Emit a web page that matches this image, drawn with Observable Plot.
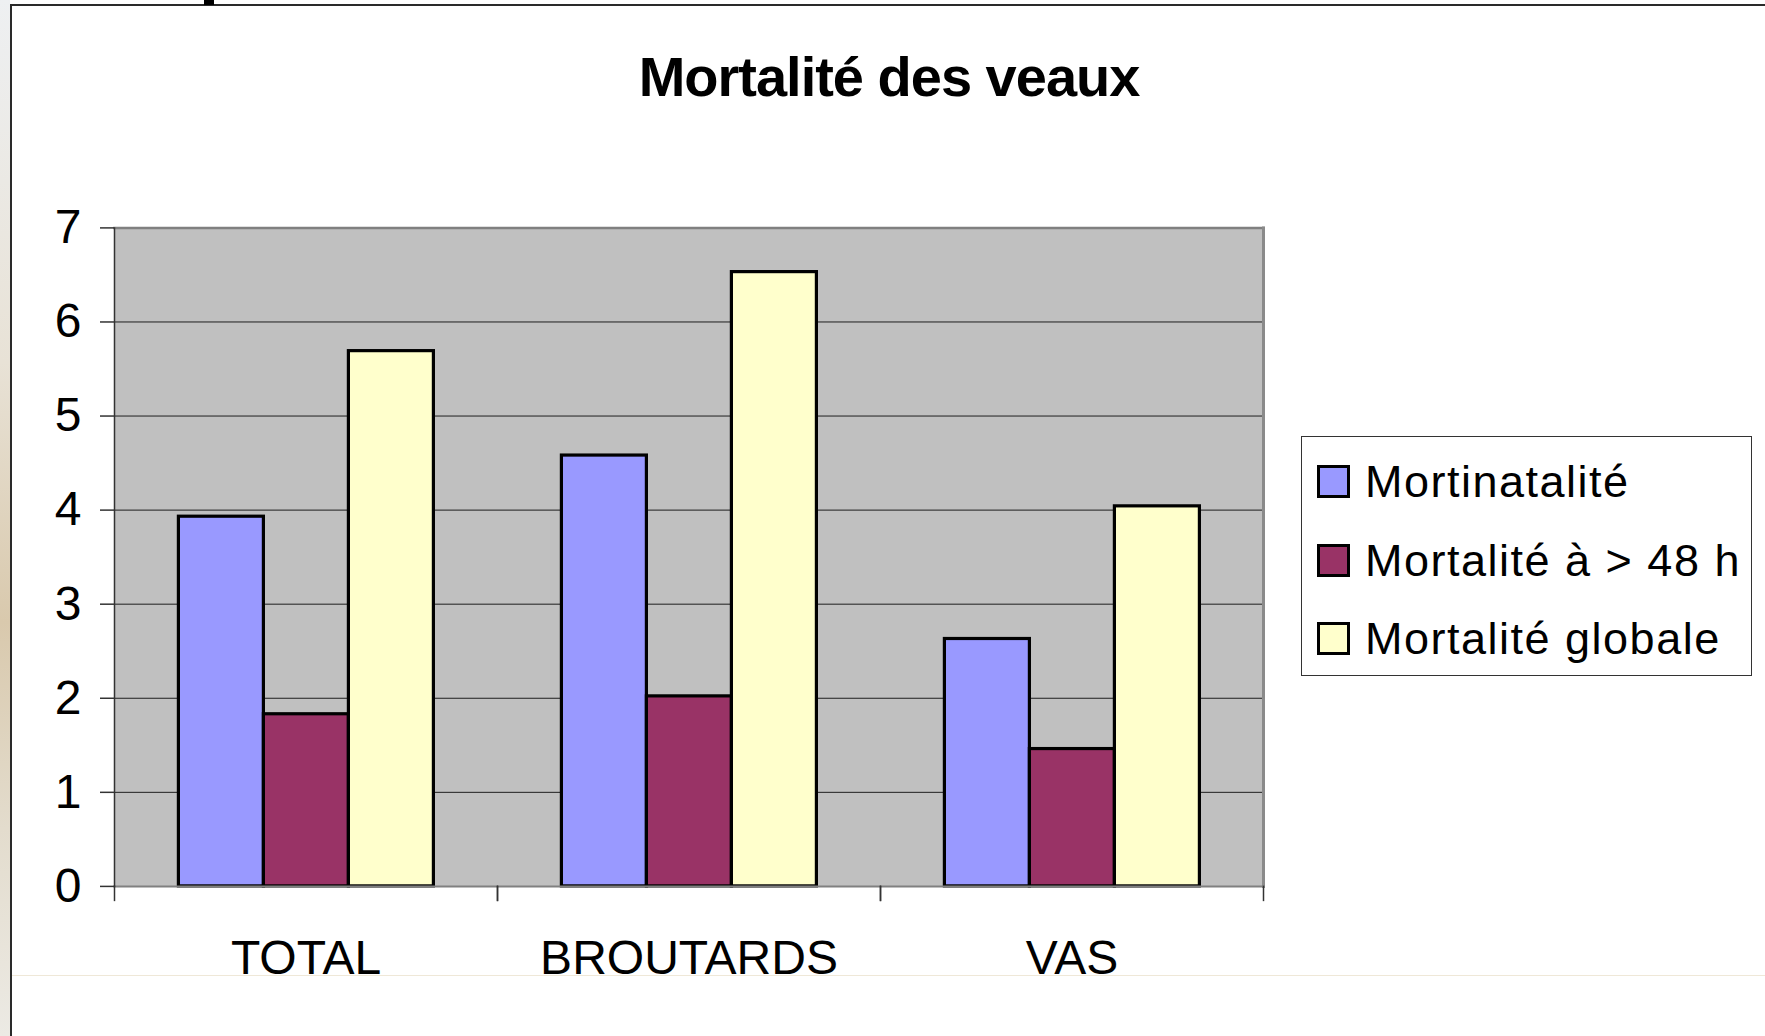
<!DOCTYPE html>
<html>
<head>
<meta charset="utf-8">
<script src="https://cdn.jsdelivr.net/npm/d3@7"></script>
<script src="https://cdn.jsdelivr.net/npm/@observablehq/plot@0.6"></script>
<style>
  html, body { margin: 0; padding: 0; background: #fff; }
  body { width: 1765px; height: 1036px; position: relative; overflow: hidden;
         font-family: "Liberation Sans", Arial, sans-serif; color: #000; }
  #edge { position: absolute; left: 0; top: 0; width: 10px; height: 1036px;
          background: linear-gradient(180deg, #eef0f2 0%, #e8e2d6 35%, #d9c9ad 60%, #e3dccd 80%, #eceae4 100%); }
  #frameL { position: absolute; left: 10px; top: 4px; width: 2px; height: 1032px; background: #2a2a2a; z-index: 3; }
  #frameT { position: absolute; left: 10px; top: 4px; width: 1755px; height: 2px; background: #2a2a2a; }
  #mark { position: absolute; left: 204px; top: 0; width: 10px; height: 5px; background: #000; }
  #title { position: absolute; left: 389px; width: 1000px; top: 49px; text-align: center;
           font-weight: bold; font-size: 56px; line-height: 56px; letter-spacing: -1px; }
  #chart { position: absolute; left: 0; top: 180px; }
  #footer { position: absolute; left: 12px; top: 975px; width: 1753px; height: 61px;
            background: #fff; border-top: 1px solid #efe8d8; z-index: 2; }
  #legend { position: absolute; left: 1301px; top: 436px; width: 451px; height: 240px;
            border: 1.5px solid #333; background: #fff; box-sizing: border-box; }
  .row { position: absolute; left: 15px; display: flex; align-items: center; height: 45px;
         font-size: 45px; line-height: 45px; letter-spacing: 1.5px; white-space: nowrap; }
  .sw { width: 27px; height: 27px; border: 3px solid #000; margin-right: 15px; flex: none; }
</style>
</head>
<body>
<div id="edge"></div>
<div id="frameL"></div>
<div id="frameT"></div>
<div id="mark"></div>
<div id="title">Mortalité des veaux</div>
<div id="chart"></div>
<div id="footer"></div>
<div id="legend"></div>
<script>
// ---- data ----
const categories = ["TOTAL", "BROUTARDS", "VAS"];
const series = ["Mortinatalité", "Mortalité à > 48 h", "Mortalité globale"];
const mortinatalite = [3.93, 4.58, 2.63];
const mortalite48h = [1.83, 2.02, 1.46];
const mortaliteGlobale = [5.69, 6.53, 4.04];
const colors = ["#9999ff", "#993366", "#ffffcc"];
const yTicks = [0, 1, 2, 3, 4, 5, 6, 7];
const gridTicks = [1, 2, 3, 4, 5, 6];

const valuesBySeries = [mortinatalite, mortalite48h, mortaliteGlobale];
const data = categories.flatMap((c, i) =>
  series.map((s, j) => ({category: c, series: s, value: valuesBySeries[j][i]})));

// ---- layout ----
const W = 1765, H = 820;
const mT = 47.4, mB = 114.1, mL = 112.6, mR = 500.9;
const plotH = H - mT - mB;

const chart = Plot.plot({
  width: W, height: H,
  marginTop: mT, marginBottom: mB, marginLeft: mL, marginRight: mR,
  style: {fontFamily: '"Liberation Sans", Arial, sans-serif', fontSize: "48px",
          color: "#000", background: "transparent", overflow: "visible"},
  fx: {domain: categories, padding: 0, label: null},
  x: {domain: series, paddingInner: 0, paddingOuter: 0.75, axis: null},
  y: {domain: [0, 7], axis: null, label: null},
  color: {domain: series, range: colors},
  marks: [
    Plot.frame({fill: "#c0c0c0", stroke: null, facet: "super"}),
    Plot.gridY(gridTicks, {stroke: "#1e1e1e", strokeOpacity: 1, strokeWidth: 1}),
    Plot.barY(data, {fx: "category", x: "series", y: "value", fill: "series",
                     stroke: "#000", strokeWidth: 3.2}),
    Plot.frame({anchor: "top", stroke: "#808080", strokeWidth: 2.5, facet: "super"}),
    Plot.frame({anchor: "right", stroke: "#8a8a8a", strokeWidth: 3, facet: "super"}),
    Plot.frame({anchor: "bottom", stroke: "#808080", strokeWidth: 2, facet: "super"}),
    Plot.frame({anchor: "left", stroke: "#333", strokeWidth: 1.5, facet: "super"}),
    Plot.frame({anchor: "left", insetTop: plotH, insetBottom: -14, stroke: "#333", strokeWidth: 1.5}),
    Plot.frame({anchor: "right", insetTop: plotH, insetBottom: -14, stroke: "#333", strokeWidth: 1.5}),
    Plot.axisY(yTicks, {tickSize: 14, tickPadding: 19, stroke: "#333", strokeWidth: 1.5,
                        tickFormat: (d) => String(d), label: null}),
    Plot.axisFx({anchor: "bottom", tickSize: 0, tickPadding: 54, label: null})
  ]
});
document.getElementById("chart").appendChild(chart);

// ---- legend ----
const legend = document.getElementById("legend");
const rowTops = [22, 101, 179];
series.forEach((s, i) => {
  const row = document.createElement("div");
  row.className = "row";
  row.style.top = rowTops[i] + "px";
  const sw = document.createElement("div");
  sw.className = "sw";
  sw.style.background = colors[i];
  const label = document.createElement("span");
  label.textContent = s;
  row.appendChild(sw);
  row.appendChild(label);
  legend.appendChild(row);
});
</script>
</body>
</html>
